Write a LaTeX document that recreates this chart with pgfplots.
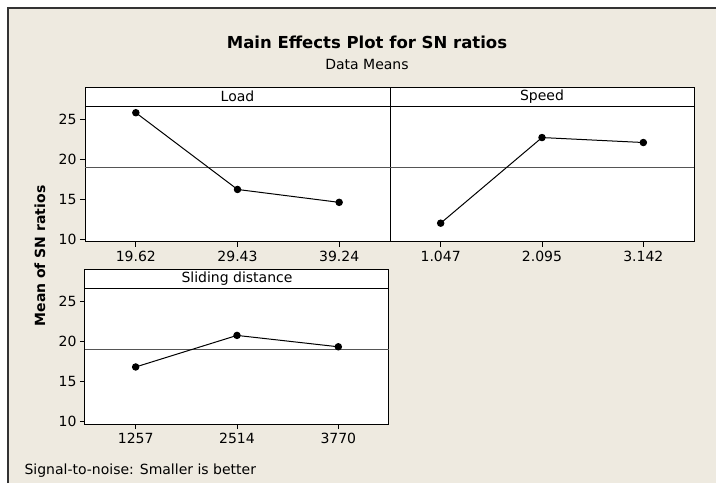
\documentclass[border=0pt]{standalone}
\usepackage{pgfplots}
\pgfplotsset{compat=1.18}
\usepackage{fontspec}
\setmainfont{DejaVu Sans}
\definecolor{bgbeige}{HTML}{EEEAE0}
\definecolor{framec}{HTML}{333333}
\definecolor{refc}{HTML}{555555}
\newcommand{\tickfont}{\fontsize{14}{16}\selectfont}
\pgfplotsset{
  meplot/.style={
    scale only axis,
    width=#1pt, height=136pt,
    xmin=0.5, xmax=3.5, ymin=9.72, ymax=26.7,
    xtick={1,2,3},
    ytick={10,15,20,25},
    yticklabels={10,15,20,25},
    tick align=outside,
    major tick length=5pt,
    xtick pos=bottom, ytick pos=left,
    axis line style={black, line width=1pt},
    tick style={black, line width=0.8pt},
    tick label style={font=\tickfont},
    /pgf/number format/assume math mode=true,
    xticklabel style={yshift=-1pt},
    yticklabel style={xshift=0pt},
    axis background/.style={fill=white},
    clip=false,
  },
}
\begin{document}
\begin{tikzpicture}
\useasboundingbox (0pt,0pt) rectangle (716pt,483pt);
\fill[white] (0pt,0pt) rectangle (716pt,483pt);
\fill[bgbeige] (8pt,0pt) rectangle (716pt,475pt);
\draw[framec, line width=1.5pt] (8pt,0pt) -- (8pt,475pt) -- (716pt,475pt);

% Titles and labels
\node[font=\fontsize{16.5}{18}\selectfont\bfseries] at (367pt,440.5pt) {Main Effects Plot for SN ratios};
\node[font=\fontsize{14}{16}\selectfont] at (367pt,419pt) {Data Means};
\node[font=\fontsize{14}{16}\selectfont\bfseries, rotate=90] at (40pt,227pt) {Mean of SN ratios};
\node[font=\fontsize{14}{16}\selectfont, anchor=west] at (21pt,12pt) {Signal-to-noise: Smaller is better};

% Load
\begin{axis}[meplot=305, at={(85pt,241pt)}, anchor=south west,
  xticklabels={19.62,29.43,39.24}]
\draw[black, line width=1pt, fill=white] (rel axis cs:0,1) rectangle (rel axis cs:1,1.1397);
\node[font=\tickfont] at (rel axis cs:0.5,1.0699) {Load};
\addplot[refc, line width=1pt] coordinates {(0.5,18.97) (3.5,18.97)};
\addplot[black, line width=1pt, mark=*, mark size=3.2pt] coordinates {(1,25.86) (2,16.28) (3,14.67)};
\end{axis}

% Speed
\begin{axis}[meplot=304, at={(390pt,241pt)}, anchor=south west,
  xticklabels={1.047,2.095,3.142}, yticklabels={}, ytick=\empty]
\draw[black, line width=1pt, fill=white] (rel axis cs:0,1) rectangle (rel axis cs:1,1.1397);
\node[font=\tickfont] at (rel axis cs:0.5,1.0699) {Speed};
\addplot[refc, line width=1pt] coordinates {(0.5,18.97) (3.5,18.97)};
\addplot[black, line width=1pt, mark=*, mark size=3.2pt] coordinates {(1,12.07) (2,22.76) (3,22.14)};
\end{axis}

% Sliding distance
\begin{axis}[meplot=304, at={(85pt,59pt)}, anchor=south west,
  xticklabels={1257,2514,3770}]
\draw[black, line width=1pt, fill=white] (rel axis cs:0,1) rectangle (rel axis cs:1,1.1397);
\node[font=\tickfont] at (rel axis cs:0.5,1.0699) {Sliding distance};
\addplot[refc, line width=1pt] coordinates {(0.5,18.97) (3.5,18.97)};
\addplot[black, line width=1pt, mark=*, mark size=3.2pt] coordinates {(1,16.84) (2,20.78) (3,19.36)};
\end{axis}
\end{tikzpicture}
\end{document}
